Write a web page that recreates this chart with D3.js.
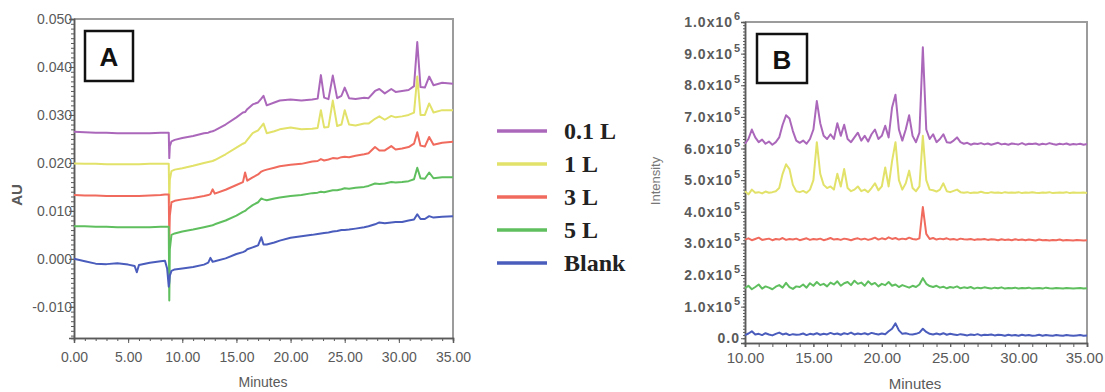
<!DOCTYPE html>
<html><head><meta charset="utf-8">
<script src="https://cdn.jsdelivr.net/npm/d3@7"></script>
<style>body{margin:0;background:#fff;} svg{display:block;}</style>
</head><body>
<svg id="chart" width="1105" height="392"></svg>
<script>
// ---------- shared ----------
const seriesNames = ["0.1 L","1 L","3 L","5 L","Blank"];
const seriesColors = ["#ab68bb","#e2e26a","#f06b5d","#5fbf5f","#4a5cbc"];

// ---------- Panel A (UV, AU vs minutes) ----------
const timesA = [0,1,2,3,4,5,5.6,5.8,6,7,
  8,8.4,8.6,8.75,8.8,8.85,9,9.3,10,11,
  12,12.4,12.6,12.8,13,14,15,15.6,15.8,16,
  16.5,17,17.3,17.5,17.8,18.5,19,20,21,22,
  22.5,22.8,23.1,23.5,23.9,24.3,24.7,25,25.4,26,
  26.8,27.2,27.8,28.2,28.7,29.3,29.7,30.3,30.9,31.4,
  31.7,32,32.4,32.8,33.2,34,35];
const auA_01L = [0.0265,0.0264,0.0263,0.0263,0.0262,0.0262,0.0262,0.0262,0.0262,0.0262,
  0.0263,0.0263,0.0263,0.0263,0.0210,0.0235,0.0245,0.0248,0.0252,0.0256,
  0.0262,0.0263,0.0265,0.0266,0.0268,0.0280,0.0295,0.0305,0.0306,0.0312,
  0.0322,0.0326,0.0334,0.0340,0.0320,0.0326,0.0330,0.0332,0.0330,0.0332,
  0.0334,0.0383,0.0336,0.0333,0.0382,0.0335,0.0340,0.0357,0.0335,0.0333,
  0.0336,0.0335,0.0350,0.0354,0.0345,0.0354,0.0348,0.0350,0.0352,0.0360,
  0.0452,0.0358,0.0357,0.0380,0.0362,0.0367,0.0365];
const auA_1L = [0.0199,0.0198,0.0198,0.0197,0.0197,0.0197,0.0197,0.0197,0.0197,0.0198,
  0.0198,0.0198,0.0198,0.0198,0.0118,0.0165,0.0183,0.0186,0.0189,0.0194,
  0.0200,0.0202,0.0203,0.0204,0.0206,0.0218,0.0232,0.0240,0.0242,0.0248,
  0.0262,0.0268,0.0276,0.0282,0.0262,0.0266,0.0270,0.0274,0.0270,0.0271,
  0.0273,0.0310,0.0274,0.0275,0.0330,0.0277,0.0280,0.0310,0.0280,0.0278,
  0.0282,0.0282,0.0292,0.0297,0.0290,0.0298,0.0295,0.0297,0.0300,0.0305,
  0.0380,0.0300,0.0300,0.0324,0.0305,0.0310,0.0310];
const auA_3L = [0.0133,0.0132,0.0132,0.0131,0.0131,0.0131,0.0131,0.0131,0.0131,0.0132,
  0.0133,0.0134,0.0134,0.0134,0.0041,0.0090,0.0118,0.0121,0.0124,0.0127,
  0.0131,0.0133,0.0135,0.0145,0.0136,0.0144,0.0154,0.0160,0.0180,0.0163,
  0.0170,0.0176,0.0182,0.0184,0.0186,0.0190,0.0193,0.0196,0.0198,0.0203,
  0.0204,0.0208,0.0205,0.0207,0.0210,0.0209,0.0212,0.0213,0.0212,0.0215,
  0.0218,0.0220,0.0233,0.0226,0.0226,0.0235,0.0228,0.0230,0.0233,0.0240,
  0.0264,0.0236,0.0234,0.0254,0.0238,0.0242,0.0244];
const auA_5L = [0.0068,0.0068,0.0067,0.0067,0.0066,0.0066,0.0066,0.0066,0.0066,0.0066,
  0.0067,0.0067,0.0067,0.0067,-0.0087,0.0020,0.0050,0.0053,0.0057,0.0061,
  0.0066,0.0068,0.0069,0.0070,0.0072,0.0080,0.0090,0.0098,0.0100,0.0104,
  0.0112,0.0118,0.0126,0.0124,0.0122,0.0126,0.0128,0.0131,0.0133,0.0137,
  0.0138,0.0140,0.0139,0.0141,0.0143,0.0143,0.0145,0.0147,0.0146,0.0148,
  0.0150,0.0152,0.0157,0.0156,0.0157,0.0160,0.0159,0.0160,0.0162,0.0166,
  0.0190,0.0168,0.0167,0.0180,0.0168,0.0170,0.0170];
const auA_Blank = [0.0000,-0.0005,-0.0010,-0.0011,-0.0009,-0.0012,-0.0015,-0.0028,-0.0013,-0.0008,
  -0.0005,-0.0004,-0.0020,-0.0058,-0.0050,-0.0035,-0.0025,-0.0022,-0.0020,-0.0017,
  -0.0012,-0.0008,0.0002,-0.0006,-0.0005,0.0001,0.0010,0.0014,0.0016,0.0020,
  0.0024,0.0028,0.0045,0.0030,0.0030,0.0034,0.0038,0.0044,0.0047,0.0050,
  0.0052,0.0053,0.0054,0.0055,0.0057,0.0058,0.0060,0.0060,0.0061,0.0063,
  0.0066,0.0068,0.0072,0.0076,0.0074,0.0076,0.0077,0.0077,0.0080,0.0082,
  0.0093,0.0083,0.0083,0.0089,0.0086,0.0088,0.0089];
const xTicksA = [0,5,10,15,20,25,30,35];
const yTicksA = [-0.010,0.000,0.010,0.020,0.030,0.040,0.050];

// ---------- Panel B (MS intensity, x1e5, vs minutes) ----------
const timesB = [10,10.25,10.5,10.75,11,11.25,11.5,11.75,12,12.25,
  12.5,12.75,13,13.25,13.5,13.75,14,14.25,14.5,14.75,
  15,15.25,15.5,15.75,16,16.25,16.5,16.75,17,17.25,
  17.5,17.75,18,18.25,18.5,18.75,19,19.25,19.5,19.75,
  20,20.25,20.5,20.75,21,21.25,21.5,21.75,22,22.25,
  22.5,22.75,23,23.25,23.5,23.75,24,24.25,24.5,24.75,
  25,25.25,25.5,25.75,26,26.25,26.5,26.75,27,27.25,
  27.5,27.75,28,28.25,28.5,28.75,29,29.25,29.5,29.75,
  30,30.25,30.5,30.75,31,31.25,31.5,31.75,32,32.25,
  32.5,32.75,33,33.25,33.5,33.75,34,34.25,34.5,34.75,
  35];
const intB_01L = [6.15,6.30,6.60,6.35,6.20,6.28,6.15,6.22,6.12,6.20,
  6.35,6.75,7.05,6.95,6.55,6.25,6.18,6.25,6.15,6.30,
  6.60,7.50,6.80,6.40,6.30,6.45,6.30,6.80,6.40,6.75,
  6.30,6.20,6.35,6.50,6.25,6.40,6.22,6.45,6.60,6.30,
  6.40,6.72,6.35,7.30,7.70,6.60,6.25,6.60,7.05,6.40,
  6.20,6.50,9.20,6.60,6.30,6.45,6.20,6.30,6.45,6.20,
  6.18,6.25,6.35,6.20,6.15,6.18,6.12,6.16,6.14,6.17,
  6.13,6.16,6.12,6.15,6.18,6.13,6.15,6.12,6.16,6.14,
  6.13,6.17,6.12,6.15,6.14,6.16,6.12,6.15,6.13,6.17,
  6.14,6.12,6.15,6.13,6.16,6.12,6.14,6.13,6.15,6.12,
  6.14];
const intB_1L = [4.65,4.55,4.70,4.60,4.62,4.58,4.64,4.60,4.62,4.65,
  4.75,5.20,5.50,5.35,4.85,4.65,4.62,4.66,4.60,4.70,
  5.00,6.20,5.20,4.85,4.75,4.80,4.70,5.20,4.80,5.35,
  4.75,4.65,4.70,4.80,4.65,4.70,4.62,4.75,4.90,4.68,
  4.80,5.40,4.80,5.60,6.20,5.00,4.70,4.90,5.30,4.75,
  4.65,4.80,6.40,5.00,4.70,4.68,4.64,4.70,4.90,4.65,
  4.62,4.66,4.70,4.62,4.60,4.62,4.59,4.61,4.60,4.63,
  4.60,4.59,4.62,4.60,4.61,4.59,4.62,4.60,4.61,4.60,
  4.62,4.59,4.61,4.60,4.62,4.60,4.59,4.61,4.60,4.62,
  4.59,4.60,4.61,4.60,4.62,4.59,4.61,4.60,4.60,4.61,
  4.59];
const intB_3L = [3.12,3.16,3.10,3.14,3.18,3.11,3.13,3.15,3.10,3.14,
  3.12,3.17,3.11,3.14,3.12,3.15,3.10,3.13,3.16,3.11,
  3.14,3.12,3.15,3.10,3.13,3.17,3.12,3.14,3.11,3.15,
  3.13,3.10,3.14,3.16,3.12,3.15,3.11,3.14,3.18,3.12,
  3.16,3.13,3.19,3.14,3.17,3.12,3.15,3.13,3.18,3.14,
  3.12,3.16,4.15,3.30,3.14,3.17,3.12,3.15,3.13,3.16,
  3.12,3.14,3.11,3.15,3.13,3.12,3.14,3.11,3.13,3.12,
  3.14,3.11,3.13,3.12,3.10,3.13,3.11,3.12,3.10,3.13,
  3.11,3.12,3.10,3.12,3.11,3.09,3.12,3.10,3.11,3.09,
  3.11,3.10,3.12,3.09,3.11,3.10,3.09,3.11,3.10,3.09,
  3.10];
const intB_5L = [1.58,1.66,1.55,1.62,1.70,1.57,1.64,1.60,1.55,1.63,
  1.68,1.60,1.75,1.62,1.56,1.64,1.62,1.70,1.60,1.74,
  1.66,1.78,1.68,1.72,1.64,1.76,1.70,1.80,1.66,1.74,
  1.78,1.68,1.82,1.72,1.76,1.66,1.80,1.70,1.75,1.64,
  1.72,1.68,1.78,1.66,1.70,1.62,1.68,1.64,1.60,1.66,
  1.62,1.70,1.90,1.72,1.65,1.62,1.66,1.60,1.63,1.58,
  1.62,1.60,1.64,1.58,1.61,1.59,1.62,1.57,1.60,1.58,
  1.61,1.59,1.57,1.60,1.58,1.61,1.57,1.59,1.58,1.60,
  1.57,1.59,1.58,1.60,1.57,1.58,1.59,1.57,1.60,1.58,
  1.57,1.59,1.58,1.57,1.59,1.58,1.57,1.58,1.59,1.57,
  1.58];
const intB_Blank = [0.10,0.15,0.22,0.12,0.14,0.10,0.16,0.12,0.09,0.14,
  0.18,0.12,0.15,0.10,0.13,0.11,0.12,0.15,0.10,0.14,
  0.12,0.16,0.11,0.14,0.12,0.17,0.13,0.15,0.11,0.16,
  0.13,0.18,0.12,0.15,0.13,0.16,0.12,0.17,0.14,0.12,
  0.15,0.13,0.22,0.30,0.47,0.25,0.14,0.16,0.13,0.12,
  0.14,0.18,0.30,0.20,0.14,0.12,0.15,0.12,0.16,0.11,
  0.14,0.12,0.10,0.13,0.11,0.09,0.12,0.10,0.13,0.09,
  0.11,0.10,0.12,0.09,0.11,0.10,0.08,0.11,0.09,0.10,
  0.08,0.11,0.09,0.10,0.08,0.09,0.11,0.08,0.10,0.09,
  0.08,0.10,0.09,0.08,0.10,0.09,0.08,0.09,0.10,0.08,
  0.09];
const xTicksB = [10,15,20,25,30,35];
const yTicksB = [0,1,2,3,4,5,6,7,8,9,10];

// ---------- drawing ----------
const svg = d3.select("#chart");
const FONT = "'Liberation Sans', Arial, sans-serif";
const AX = "#5a5a5a";

function styleAxis(g, fontSize){
  g.select(".domain").attr("stroke", AX).attr("stroke-width", 1.5);
  g.selectAll(".tick line").attr("stroke", AX).attr("stroke-width", 1);
  g.selectAll(".tick text").attr("fill", AX).attr("font-family", FONT).attr("font-size", fontSize);
}

// ===== Panel A =====
const xA = d3.scaleLinear().domain([0,35]).range([74,453]);
const yA = d3.scaleLinear().domain([-0.0165,0.050]).range([338,19]);

svg.append("path")
  .attr("d", `M${xA(0)},${yA(0.05)}H${xA(35)}V${yA(-0.0165)}`)
  .attr("fill","none").attr("stroke","#9c9c9c").attr("stroke-width",2);

const minorYA = d3.range(-16, 51).map(k => k/1000);
svg.append("g").attr("transform",`translate(${xA(0)},0)`)
  .call(d3.axisLeft(yA).tickValues(minorYA).tickSize(3).tickFormat(""))
  .call(g => styleAxis(g, 14));
svg.append("g").attr("transform",`translate(${xA(0)},0)`)
  .call(d3.axisLeft(yA).tickValues(yTicksA).tickSize(5).tickPadding(-3).tickFormat(d => d.toFixed(3)))
  .call(g => styleAxis(g, 14));

const minorXA = d3.range(0, 36);
svg.append("g").attr("transform",`translate(0,${yA(-0.0165)})`)
  .call(d3.axisBottom(xA).tickValues(minorXA).tickSize(3).tickFormat(""))
  .call(g => styleAxis(g, 14));
svg.append("g").attr("transform",`translate(0,${yA(-0.0165)})`)
  .call(d3.axisBottom(xA).tickValues(xTicksA).tickSize(5).tickPadding(9).tickFormat(d => d.toFixed(2)))
  .call(g => styleAxis(g, 14));

svg.append("text").attr("x", 263).attr("y", 387).attr("text-anchor","middle")
  .attr("font-family", FONT).attr("font-size", 14).attr("fill", AX).text("Minutes");
svg.append("text").attr("transform","translate(22,195) rotate(-90)").attr("text-anchor","middle")
  .attr("font-family", FONT).attr("font-size", 15).attr("font-weight","bold").attr("fill", AX).text("AU");

const seriesA = [auA_01L, auA_1L, auA_3L, auA_5L, auA_Blank];
const lineA = d3.line().x(d => xA(d[0])).y(d => yA(d[1]));
seriesA.forEach((vals, i) => {
  svg.append("path").datum(timesA.map((t, j) => [t, vals[j]]))
    .attr("d", lineA).attr("fill","none").attr("stroke", seriesColors[i])
    .attr("stroke-width", 2).attr("stroke-linejoin","round");
});

// label box A
svg.append("rect").attr("x",85).attr("y",31).attr("width",48).attr("height",50)
  .attr("fill","#fff").attr("stroke","#111").attr("stroke-width",2.5);
svg.append("text").attr("x",109).attr("y",66).attr("text-anchor","middle")
  .attr("font-family",FONT).attr("font-weight","bold").attr("font-size",26).attr("fill","#111").text("A");

// ===== Legend =====
const legend = svg.append("g");
seriesNames.forEach((name, i) => {
  const y = 131 + i*33;
  legend.append("line").attr("x1",497).attr("x2",547).attr("y1",y).attr("y2",y)
    .attr("stroke", seriesColors[i]).attr("stroke-width",3.5);
  legend.append("text").attr("x",564).attr("y",y+8)
    .attr("font-family","'Liberation Serif','Times New Roman',serif")
    .attr("font-weight","bold").attr("font-size",24).attr("fill","#222").text(name);
});

// ===== Panel B =====
const xB = d3.scaleLinear().domain([10,35]).range([745,1087]);
const yB = d3.scaleLinear().domain([-0.15,10]).range([343,22]);

svg.append("path")
  .attr("d", `M${xB(10)},${yB(10)}H${xB(35)}V${yB(-0.15)}`)
  .attr("fill","none").attr("stroke","#9c9c9c").attr("stroke-width",2);

const minorYB = d3.range(0, 101).map(k => k/10);
svg.append("g").attr("transform",`translate(${xB(10)},0)`)
  .call(d3.axisLeft(yB).tickValues(minorYB).tickSize(2).tickFormat(""))
  .call(g => styleAxis(g, 13));
svg.append("g").attr("transform",`translate(${xB(10)},0)`)
  .call(d3.axisLeft(yB).tickValues(yTicksB).tickSize(4).tickFormat(""))
  .call(g => styleAxis(g, 13));
// custom tick labels with superscripts
yTicksB.forEach(v => {
  const g = svg.append("g").attr("transform", `translate(${xB(10)-5},${yB(v)+5})`);
  if (v === 0) {
    g.append("text").attr("text-anchor","end").attr("font-family",FONT).attr("font-size",14)
      .attr("font-weight","bold").attr("letter-spacing",1).attr("fill",AX).text("0.0");
  } else {
    const mant = v === 10 ? "1.0" : v.toFixed(1);
    const expo = v === 10 ? "6" : "5";
    g.append("text").attr("x",0).attr("y",-7).attr("text-anchor","end").attr("font-family",FONT)
      .attr("font-size",11).attr("font-weight","bold").attr("fill",AX).text(expo);
    g.append("text").attr("x",-7).attr("text-anchor","end").attr("font-family",FONT)
      .attr("font-size",14).attr("font-weight","bold").attr("letter-spacing",1).attr("fill",AX).text(mant + "x10");
  }
});

const minorXB = d3.range(10, 36);
svg.append("g").attr("transform",`translate(0,${yB(-0.15)})`)
  .call(d3.axisBottom(xB).tickValues(minorXB).tickSize(4).tickFormat(""))
  .call(g => styleAxis(g, 15));
svg.append("g").attr("transform",`translate(0,${yB(-0.15)})`)
  .call(d3.axisBottom(xB).tickValues(xTicksB).tickSize(4).tickPadding(5).tickFormat(d => d.toFixed(2)))
  .call(g => styleAxis(g, 15))
  .call(g => g.selectAll(".tick text").filter(d => d === 35).attr("dx", -3));

svg.append("text").attr("x", 915).attr("y", 389).attr("text-anchor","middle")
  .attr("font-family", FONT).attr("font-size", 15).attr("fill", AX).text("Minutes");
svg.append("text").attr("transform","translate(660,181) rotate(-90)").attr("text-anchor","middle")
  .attr("font-family", FONT).attr("font-size", 13).attr("fill", "#777").text("Intensity");

const seriesB = [intB_01L, intB_1L, intB_3L, intB_5L, intB_Blank];
const lineB = d3.line().x(d => xB(d[0])).y(d => yB(d[1]));
seriesB.forEach((vals, i) => {
  svg.append("path").datum(timesB.map((t, j) => [t, vals[j]]))
    .attr("d", lineB).attr("fill","none").attr("stroke", seriesColors[i])
    .attr("stroke-width", 2).attr("stroke-linejoin","round");
});

svg.append("rect").attr("x",757).attr("y",34).attr("width",50).attr("height",49)
  .attr("fill","#fff").attr("stroke","#111").attr("stroke-width",2.5);
svg.append("text").attr("x",782).attr("y",69).attr("text-anchor","middle")
  .attr("font-family",FONT).attr("font-weight","bold").attr("font-size",26).attr("fill","#111").text("B");
</script>
</body></html>
